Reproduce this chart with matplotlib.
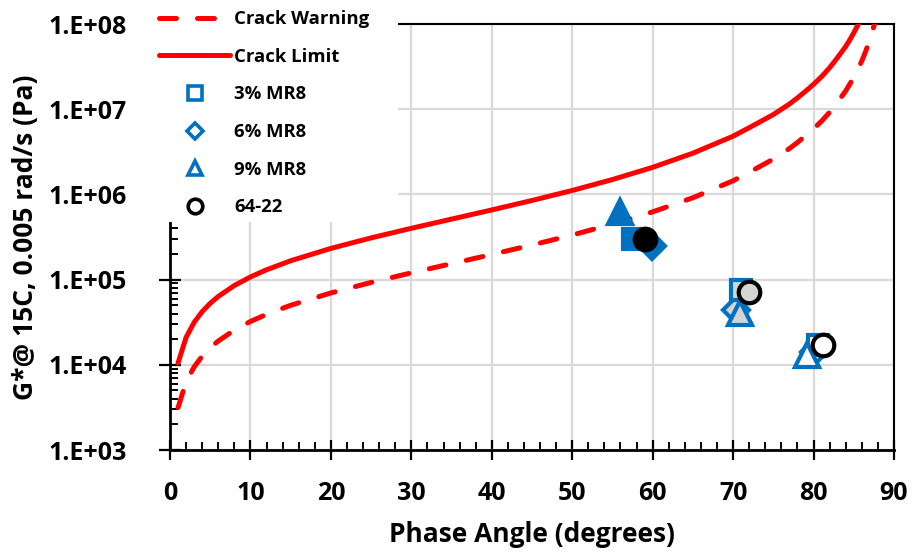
import matplotlib
matplotlib.use("Agg")
import matplotlib.pyplot as plt
from matplotlib.lines import Line2D
from matplotlib.patches import Rectangle
from matplotlib.ticker import LogLocator, MultipleLocator, NullFormatter

plt.rcParams['font.family'] = ['Open Sans', 'DejaVu Sans']
plt.rcParams['font.weight'] = 'bold'

# ---- data ----
limit_phase = [1, 2, 3, 4, 5, 6, 8, 10, 12, 15, 20, 25, 30, 35, 40, 45, 50, 55, 60,
               65, 70, 73, 75, 77, 78, 79, 80, 81, 82, 83, 84, 84.5, 85, 85.3, 85.6, 86]
limit_g = [10475, 20965, 31488, 42058, 52694, 63410, 85153, 107428, 130383, 166439,
           232397, 308708, 400000, 512877, 657220, 848528, 1112422, 1493939, 2078461,
           3044606, 4819843, 6820000, 8651766, 11500000, 13576920, 16230000, 19595580,
           24130000, 30675840, 40540000, 54614040, 64950000, 78687600, 89100000,
           101640000, 123006000]
warn_phase = [1, 2, 3, 4, 5, 6, 8, 10, 12, 15, 20, 25, 30, 35, 40, 45, 50, 55, 60,
              65, 70, 73, 75, 77, 78, 79, 80, 81, 82, 83, 84, 85, 85.5, 86, 86.5,
              87, 87.5, 88]
warn_g = [3142, 6290, 9446, 12617, 15808, 19023, 25546, 32228, 39115, 49932,
          69719, 92612, 120000, 153863, 197166, 254558, 333727, 448182, 623538,
          913382, 1445953, 2046000, 2595530, 3450000, 4073076, 4870000, 5878674,
          7240000, 9202752, 12160000, 16384212, 23606280, 29140000, 36902000,
          48370000, 65628000, 94518000, 147700000]

mr3_phase = [57.6, 71.0, 80.5]
mr3_g = [3.0e5, 7.6e4, 1.7e4]
mr6_phase = [59.9, 70.3, 80.0]
mr6_g = [2.5e5, 4.4e4, 1.4e4]
mr9_phase = [55.9, 70.9, 79.2]
mr9_g = [6.2e5, 4.1e4, 1.3e4]
pg_phase = [59.1, 72.0, 81.2]
pg_g = [3.0e5, 7.1e4, 1.7e4]

series_labels = ['Crack Warning', 'Crack Limit', '3% MR8', '6% MR8', '9% MR8', '64-22']
x_ticks = [0, 10, 20, 30, 40, 50, 60, 70, 80, 90]
y_ticks = [1e3, 1e4, 1e5, 1e6, 1e7, 1e8]
y_tick_labels = ['1.E+03', '1.E+04', '1.E+05', '1.E+06', '1.E+07', '1.E+08']

# ---- style ----
RED = '#FF0000'
BLUE = '#0070C0'
GRAY = '#D4D4D4'
GRID = '#D9D9D9'

fig = plt.figure(figsize=(9.15, 5.55), dpi=100)
ax = fig.add_axes([170/915, 1-450/555, (894-170)/915, (450-24)/555])

ax.set_xlim(0, 90)
ax.set_yscale('log')
ax.set_ylim(1e3, 1e8)

ax.grid(True, which='major', color=GRID, lw=1.6, zorder=0)
ax.set_axisbelow(True)

lw = 3.6
ax.plot(warn_phase, warn_g, color=RED, lw=lw, dashes=(3.4, 4.2),
        dash_capstyle='round', zorder=3)
ax.plot(limit_phase, limit_g, color=RED, lw=lw, solid_capstyle='round', zorder=3)

faces = [None, GRAY, 'white']
mew = 3.0
def draw(phase, g, marker, edge, first_face, ms, z):
    for i, (p, v) in enumerate(zip(phase, g)):
        fc = first_face if i == 0 else faces[i]
        ax.plot([p], [v], linestyle='none', marker=marker, ms=ms, mfc=fc,
                mec=edge, mew=mew, zorder=z)

draw(mr6_phase, mr6_g, 'D', BLUE, BLUE, 13.5, 4)
draw(mr3_phase, mr3_g, 's', BLUE, BLUE, 15, 5)
draw(mr9_phase, mr9_g, '^', BLUE, BLUE, 17, 6)
draw(pg_phase, pg_g, 'o', 'black', 'black', 15.5, 7)

# ticks
ax.set_xticks(x_ticks)
ax.xaxis.set_minor_locator(MultipleLocator(2))
ax.set_yticks(y_ticks)
ax.set_yticklabels(y_tick_labels)
ax.yaxis.set_minor_locator(LogLocator(base=10, subs=range(2, 10), numticks=20))
ax.yaxis.set_minor_formatter(NullFormatter())

ax.tick_params(axis='both', which='major', direction='inout', width=1.6,
               labelsize=18, colors='black')
ax.tick_params(axis='x', which='major', length=14, pad=15)
ax.tick_params(axis='y', which='major', length=16, pad=23)
ax.tick_params(axis='both', which='minor', direction='in', width=1.4, length=5.5)
for lab in ax.get_xticklabels() + ax.get_yticklabels():
    lab.set_fontweight('bold')

for s in ['left', 'bottom']:
    ax.spines[s].set_linewidth(2.0)
for s in ['top', 'right']:
    ax.spines[s].set_linewidth(1.5)

ax.set_xlabel('Phase Angle (degrees)', fontsize=19, fontweight='bold', labelpad=11)
ax.set_ylabel('G*@ 15C, 0.005 rad/s (Pa)', fontsize=19, fontweight='bold', labelpad=7)

# legend background
bg = Rectangle((150/915, 1-222/555), (398-150)/915, 222/555,
               transform=fig.transFigure, facecolor='white', edgecolor='none',
               zorder=8, clip_on=False)
ax.add_patch(bg)

handles = [
    Line2D([], [], color=RED, lw=lw, dashes=(3.4, 4.2), dash_capstyle='round'),
    Line2D([], [], color=RED, lw=lw, solid_capstyle='round'),
    Line2D([], [], ls='none', marker='s', ms=9.5, mfc='white', mec=BLUE, mew=2.6),
    Line2D([], [], ls='none', marker='D', ms=8.5, mfc='white', mec=BLUE, mew=2.6),
    Line2D([], [], ls='none', marker='^', ms=10.5, mfc='white', mec=BLUE, mew=2.6),
    Line2D([], [], ls='none', marker='o', ms=10.5, mfc='white', mec='black', mew=2.6),
]
leg = ax.legend(handles, series_labels, loc='upper left',
                bbox_to_anchor=(151/915, 1 - 2/555), bbox_transform=fig.transFigure,
                frameon=False, handlelength=3.85, handletextpad=0.2,
                labelspacing=1.06, borderaxespad=0, borderpad=0.45,
                prop={'weight': 'bold', 'size': 13.3})
leg.set_zorder(9)

fig.savefig('out.png', dpi=100)
